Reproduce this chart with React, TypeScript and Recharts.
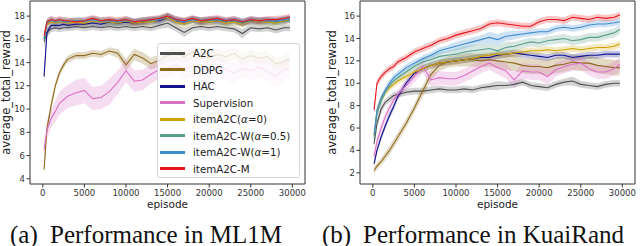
import { Area, ComposedChart, Label, Line, ReferenceArea, XAxis, YAxis } from 'recharts'

// episodes sampled along the x axis (both panels)
const EPISODES = [
  150, 500, 1000, 1500, 2000, 2500, 3000, 4000, 5000, 6000, 7000, 8000, 9000, 10000, 11000, 12000, 13000,
  14000, 15000, 16000, 17000, 18000, 19000, 20000, 21000, 22000, 23000, 24000, 25000, 26000, 27000, 28000,
  29000, 29700,
]
const X_TICKS = [0, 5000, 10000, 15000, 20000, 25000, 30000]
const ML1M_Y_TICKS = [4, 6, 8, 10, 12, 14, 16, 18]
const KUAI_Y_TICKS = [2, 4, 6, 8, 10, 12, 14, 16]

// (a) ML1M — mean reward
const ML1M_A2C = [15.8, 16.6, 16.9, 17.0, 16.9, 17.0, 17.0, 17.1, 17.0, 17.1, 17.0, 17.1, 17.0, 17.1, 17.0, 17.1, 17.0, 17.2, 17.4, 17.0, 16.6, 17.0, 17.1, 17.0, 17.1, 17.0, 16.9, 16.5, 17.0, 16.9, 17.0, 16.8, 17.0, 17.0]
const ML1M_DDPG = [4.8, 8.3, 10.3, 12.0, 13.1, 13.8, 14.3, 14.6, 14.6, 14.8, 14.7, 15.0, 14.8, 13.8, 14.7, 14.4, 13.9, 14.2, 14.6, 14.8, 14.5, 14.9, 14.6, 14.4, 14.7, 14.5, 14.8, 14.3, 14.6, 14.4, 14.5, 13.9, 14.1, 14.3]
const ML1M_HAC = [12.8, 16.6, 17.2, 17.2, 17.2, 17.3, 17.2, 17.3, 17.3, 17.4, 17.3, 17.5, 17.4, 17.5, 17.4, 17.5, 17.6, 17.6, 17.9, 17.6, 17.5, 17.7, 17.5, 17.6, 17.6, 17.5, 17.6, 17.4, 17.6, 17.5, 17.6, 17.5, 17.6, 17.7]
const ML1M_SUP = [6.5, 8.2, 9.2, 9.8, 10.5, 10.8, 11.1, 11.4, 11.6, 10.9, 11.0, 11.5, 12.3, 13.3, 12.4, 12.5, 13.0, 13.4, 13.5, 13.8, 13.4, 13.7, 13.5, 13.3, 13.6, 13.4, 13.1, 13.5, 13.3, 13.6, 13.2, 12.8, 13.4, 13.5]
const ML1M_ITEM0 = [16.0, 17.3, 17.5, 17.4, 17.5, 17.5, 17.4, 17.5, 17.4, 17.6, 17.5, 17.5, 17.4, 17.6, 17.4, 17.5, 17.5, 17.7, 17.9, 17.5, 17.3, 17.6, 17.5, 17.5, 17.6, 17.4, 17.5, 17.3, 17.6, 17.5, 17.5, 17.4, 17.6, 17.7]
const ML1M_W05 = [16.1, 17.4, 17.6, 17.5, 17.6, 17.5, 17.5, 17.6, 17.5, 17.7, 17.5, 17.6, 17.5, 17.6, 17.5, 17.6, 17.6, 17.7, 18.0, 17.6, 17.5, 17.7, 17.6, 17.6, 17.7, 17.5, 17.6, 17.4, 17.6, 17.6, 17.6, 17.5, 17.7, 17.7]
const ML1M_W1 = [16.0, 17.5, 17.7, 17.5, 17.6, 17.6, 17.5, 17.6, 17.6, 17.7, 17.6, 17.6, 17.5, 17.7, 17.5, 17.6, 17.7, 17.7, 18.0, 17.7, 17.5, 17.7, 17.6, 17.7, 17.7, 17.6, 17.7, 17.5, 17.7, 17.6, 17.6, 17.6, 17.7, 17.8]
const ML1M_M = [16.3, 17.5, 17.7, 17.6, 17.7, 17.6, 17.6, 17.5, 17.6, 17.8, 17.6, 17.7, 17.6, 17.7, 17.5, 17.6, 17.7, 17.8, 18.0, 17.7, 17.6, 17.8, 17.6, 17.7, 17.8, 17.6, 17.7, 17.5, 17.7, 17.6, 17.7, 17.7, 17.8, 17.9]

// (a) ML1M — half width of the shaded band
const ML1M_A2C_SD = [0.6, 0.4, 0.3, 0.3, 0.3, 0.3, 0.3, 0.3, 0.3, 0.3, 0.3, 0.3, 0.3, 0.3, 0.3, 0.3, 0.3, 0.3, 0.4, 0.3, 0.4, 0.3, 0.3, 0.3, 0.3, 0.3, 0.3, 0.4, 0.3, 0.3, 0.3, 0.3, 0.3, 0.3]
const ML1M_DDPG_SD = [0.5, 0.5, 0.4, 0.3, 0.3, 0.3, 0.3, 0.3, 0.3, 0.3, 0.3, 0.3, 0.4, 0.5, 0.5, 0.5, 0.5, 0.5, 0.5, 0.6, 0.5, 0.5, 0.5, 0.5, 0.5, 0.5, 0.5, 0.5, 0.5, 0.5, 0.5, 0.5, 0.5, 0.5]
const ML1M_HAC_SD = [0.5, 0.4, 0.3, 0.3, 0.3, 0.3, 0.3, 0.3, 0.3, 0.3, 0.3, 0.3, 0.3, 0.3, 0.3, 0.3, 0.3, 0.3, 0.3, 0.3, 0.3, 0.3, 0.3, 0.3, 0.3, 0.3, 0.3, 0.3, 0.3, 0.3, 0.3, 0.3, 0.3, 0.3]
const ML1M_SUP_SD = [0.6, 0.8, 0.8, 0.9, 1.0, 1.0, 1.0, 1.1, 1.1, 1.0, 1.0, 1.1, 1.0, 1.0, 0.9, 0.9, 0.8, 0.8, 0.8, 0.8, 0.9, 0.9, 0.9, 0.8, 0.8, 0.9, 0.9, 0.8, 0.9, 0.9, 0.9, 0.9, 0.9, 0.9]
const ML1M_ITEM0_SD = [0.4, 0.3, 0.3, 0.3, 0.3, 0.3, 0.3, 0.3, 0.3, 0.3, 0.3, 0.3, 0.3, 0.3, 0.3, 0.3, 0.3, 0.3, 0.3, 0.3, 0.3, 0.3, 0.3, 0.3, 0.3, 0.3, 0.3, 0.3, 0.3, 0.3, 0.3, 0.3, 0.3, 0.3]
const ML1M_W05_SD = [0.4, 0.3, 0.3, 0.3, 0.3, 0.3, 0.3, 0.3, 0.3, 0.3, 0.3, 0.3, 0.3, 0.3, 0.3, 0.3, 0.3, 0.3, 0.3, 0.3, 0.3, 0.3, 0.3, 0.3, 0.3, 0.3, 0.3, 0.3, 0.3, 0.3, 0.3, 0.3, 0.3, 0.3]
const ML1M_W1_SD = [0.4, 0.3, 0.3, 0.3, 0.3, 0.3, 0.3, 0.3, 0.3, 0.3, 0.3, 0.3, 0.3, 0.3, 0.3, 0.3, 0.3, 0.3, 0.3, 0.3, 0.3, 0.3, 0.3, 0.3, 0.3, 0.3, 0.3, 0.3, 0.3, 0.3, 0.3, 0.3, 0.3, 0.3]
const ML1M_M_SD = [0.4, 0.3, 0.3, 0.3, 0.3, 0.3, 0.3, 0.3, 0.3, 0.3, 0.3, 0.3, 0.3, 0.3, 0.3, 0.3, 0.3, 0.3, 0.3, 0.3, 0.3, 0.3, 0.3, 0.3, 0.3, 0.3, 0.3, 0.3, 0.3, 0.3, 0.3, 0.3, 0.3, 0.3]

// (b) KuaiRand — mean reward
const KUAI_A2C = [4.6, 6.4, 7.7, 8.3, 8.6, 8.9, 9.0, 9.2, 9.3, 9.3, 9.4, 9.5, 9.4, 9.4, 9.5, 9.4, 9.6, 9.7, 9.8, 9.8, 9.9, 10.1, 9.8, 9.7, 9.6, 9.9, 10.1, 10.2, 9.9, 9.8, 9.7, 9.9, 10.0, 10.0]
const KUAI_DDPG = [2.2, 2.6, 3.0, 3.5, 4.0, 4.6, 5.2, 6.4, 7.8, 9.3, 10.8, 11.6, 11.9, 12.0, 12.1, 12.1, 12.0, 12.1, 12.0, 11.9, 11.8, 11.6, 11.5, 11.5, 11.4, 11.6, 11.7, 11.9, 11.8, 11.8, 11.6, 11.5, 11.4, 11.4]
const KUAI_HAC = [2.8, 4.0, 5.2, 6.2, 7.1, 7.9, 8.8, 10.0, 10.9, 11.3, 11.6, 11.8, 11.9, 12.0, 12.1, 12.2, 12.3, 12.3, 12.5, 12.6, 12.7, 12.6, 12.5, 12.4, 12.3, 12.5, 12.5, 12.3, 12.4, 12.5, 12.5, 12.6, 12.6, 12.6]
const KUAI_SUP = [3.5, 4.8, 6.0, 7.0, 7.8, 8.5, 9.0, 9.8, 10.6, 11.5, 10.3, 10.5, 10.4, 10.4, 10.7, 11.1, 11.5, 11.8, 11.4, 11.1, 10.3, 11.1, 11.0, 11.0, 10.6, 11.2, 11.5, 11.7, 11.8, 11.3, 11.0, 11.0, 11.3, 11.7]
const KUAI_ITEM0 = [5.3, 7.6, 8.6, 9.2, 9.6, 9.9, 10.2, 10.6, 11.0, 11.3, 11.6, 11.8, 11.9, 12.0, 12.1, 12.2, 12.4, 12.5, 12.6, 12.6, 12.7, 12.8, 12.9, 12.9, 13.0, 12.9, 13.0, 13.1, 13.0, 13.1, 13.2, 13.2, 13.3, 13.5]
const KUAI_W05 = [5.0, 7.2, 8.4, 9.2, 9.8, 10.2, 10.5, 11.0, 11.5, 11.9, 12.1, 12.4, 12.5, 12.6, 12.8, 12.9, 13.0, 13.1, 12.9, 13.2, 13.3, 13.5, 13.7, 13.6, 13.8, 13.9, 14.0, 13.8, 13.9, 14.1, 14.1, 14.3, 14.5, 14.8]
const KUAI_W1 = [5.4, 7.6, 8.7, 9.4, 10.0, 10.5, 10.8, 11.4, 11.8, 12.2, 12.5, 12.9, 13.1, 13.3, 13.5, 13.7, 13.9, 14.1, 13.9, 14.2, 14.3, 14.4, 14.5, 14.6, 14.6, 14.9, 15.0, 14.9, 15.0, 15.2, 15.3, 15.3, 15.4, 15.5]
const KUAI_M = [7.6, 10.0, 10.6, 11.0, 11.3, 11.5, 11.9, 12.3, 12.8, 13.1, 13.4, 13.8, 14.0, 14.3, 14.5, 14.7, 14.9, 15.3, 15.4, 15.3, 15.2, 15.1, 15.1, 15.5, 15.7, 15.7, 15.6, 15.9, 15.8, 15.7, 15.9, 15.8, 15.9, 16.1]

// (b) KuaiRand — half width of the shaded band
const KUAI_A2C_SD = [0.4, 0.4, 0.4, 0.3, 0.3, 0.3, 0.3, 0.3, 0.3, 0.3, 0.3, 0.3, 0.3, 0.3, 0.3, 0.3, 0.3, 0.3, 0.4, 0.3, 0.3, 0.3, 0.3, 0.3, 0.3, 0.3, 0.3, 0.4, 0.3, 0.3, 0.3, 0.3, 0.3, 0.3]
const KUAI_DDPG_SD = [0.3, 0.3, 0.3, 0.4, 0.4, 0.4, 0.4, 0.4, 0.4, 0.5, 0.5, 0.5, 0.5, 0.5, 0.6, 0.6, 0.6, 0.6, 0.7, 0.7, 0.7, 0.7, 0.7, 0.7, 0.7, 0.7, 0.7, 0.7, 0.7, 0.7, 0.7, 0.7, 0.7, 0.7]
const KUAI_HAC_SD = [0.3, 0.3, 0.3, 0.3, 0.3, 0.3, 0.3, 0.3, 0.3, 0.3, 0.3, 0.3, 0.3, 0.3, 0.3, 0.3, 0.3, 0.3, 0.3, 0.3, 0.3, 0.3, 0.3, 0.3, 0.3, 0.3, 0.3, 0.3, 0.3, 0.3, 0.3, 0.3, 0.3, 0.3]
const KUAI_SUP_SD = [0.4, 0.4, 0.4, 0.4, 0.4, 0.4, 0.4, 0.5, 0.5, 0.6, 0.6, 0.6, 0.6, 0.6, 0.6, 0.6, 0.6, 0.6, 0.6, 0.7, 0.7, 0.7, 0.7, 0.7, 0.7, 0.6, 0.6, 0.6, 0.6, 0.6, 0.6, 0.6, 0.6, 0.6]
const KUAI_ITEM0_SD = [0.3, 0.3, 0.3, 0.3, 0.3, 0.3, 0.3, 0.3, 0.3, 0.3, 0.3, 0.3, 0.3, 0.3, 0.3, 0.3, 0.3, 0.3, 0.3, 0.3, 0.3, 0.3, 0.3, 0.3, 0.3, 0.3, 0.3, 0.3, 0.3, 0.3, 0.3, 0.3, 0.3, 0.3]
const KUAI_W05_SD = [0.3, 0.3, 0.3, 0.3, 0.3, 0.3, 0.3, 0.3, 0.3, 0.4, 0.4, 0.4, 0.4, 0.5, 0.5, 0.5, 0.5, 0.5, 0.5, 0.5, 0.4, 0.4, 0.4, 0.4, 0.4, 0.4, 0.4, 0.4, 0.4, 0.4, 0.4, 0.4, 0.4, 0.4]
const KUAI_W1_SD = [0.3, 0.3, 0.3, 0.3, 0.3, 0.3, 0.3, 0.3, 0.3, 0.3, 0.3, 0.3, 0.3, 0.4, 0.4, 0.4, 0.4, 0.5, 0.5, 0.4, 0.4, 0.3, 0.3, 0.3, 0.3, 0.3, 0.3, 0.3, 0.3, 0.3, 0.3, 0.3, 0.3, 0.3]
const KUAI_M_SD = [0.3, 0.3, 0.3, 0.3, 0.3, 0.3, 0.3, 0.3, 0.3, 0.3, 0.3, 0.3, 0.3, 0.3, 0.3, 0.3, 0.3, 0.3, 0.3, 0.3, 0.3, 0.3, 0.3, 0.3, 0.3, 0.3, 0.3, 0.3, 0.3, 0.3, 0.3, 0.3, 0.3, 0.3]

type SeriesDef = { key: string; color: string; label: React.ReactNode }

const SERIES: SeriesDef[] = [
  { key: 'A2C', color: '#505050', label: 'A2C' },
  { key: 'DDPG', color: '#8f6a1c', label: 'DDPG' },
  { key: 'HAC', color: '#12128c', label: 'HAC' },
  { key: 'SUP', color: '#dc72c6', label: 'Supervision' },
  { key: 'ITEM0', color: '#cfa200', label: <>itemA2C(<i>α</i>=0)</> },
  { key: 'W05', color: '#5a9e8c', label: <>itemA2C-W(<i>α</i>=0.5)</> },
  { key: 'W1', color: '#3c8bd0', label: <>itemA2C-W(<i>α</i>=1)</> },
  { key: 'M', color: '#e6161d', label: 'itemA2C-M' },
]

const ML1M_MEAN: Record<string, number[]> = {
  A2C: ML1M_A2C, DDPG: ML1M_DDPG, HAC: ML1M_HAC, SUP: ML1M_SUP,
  ITEM0: ML1M_ITEM0, W05: ML1M_W05, W1: ML1M_W1, M: ML1M_M,
}
const ML1M_SPREAD: Record<string, number[]> = {
  A2C: ML1M_A2C_SD, DDPG: ML1M_DDPG_SD, HAC: ML1M_HAC_SD, SUP: ML1M_SUP_SD,
  ITEM0: ML1M_ITEM0_SD, W05: ML1M_W05_SD, W1: ML1M_W1_SD, M: ML1M_M_SD,
}
const KUAI_MEAN: Record<string, number[]> = {
  A2C: KUAI_A2C, DDPG: KUAI_DDPG, HAC: KUAI_HAC, SUP: KUAI_SUP,
  ITEM0: KUAI_ITEM0, W05: KUAI_W05, W1: KUAI_W1, M: KUAI_M,
}
const KUAI_SPREAD: Record<string, number[]> = {
  A2C: KUAI_A2C_SD, DDPG: KUAI_DDPG_SD, HAC: KUAI_HAC_SD, SUP: KUAI_SUP_SD,
  ITEM0: KUAI_ITEM0_SD, W05: KUAI_W05_SD, W1: KUAI_W1_SD, M: KUAI_M_SD,
}

function buildRows(mean: Record<string, number[]>, spread: Record<string, number[]>) {
  return EPISODES.map((episode, i) => {
    const row: Record<string, number | number[]> = { episode }
    for (const s of SERIES) {
      const v = mean[s.key][i]
      const d = spread[s.key][i]
      row[s.key] = v
      row[`${s.key}_band`] = [v - d, v + d]
    }
    return row
  })
}

const X_DOMAIN: [number, number] = [-1540, 31520]
const TICK = { fontSize: 8.5, fill: '#333', fontFamily: '"DejaVu Sans", sans-serif' }
const AXIS_LABEL = { fontSize: 11, fill: '#222', fontFamily: '"DejaVu Sans", sans-serif' }

function RewardChart({
  rows,
  yDomain,
  yTicks,
  yAxisWidth,
  marginRight,
  labelOffset,
}: {
  rows: Record<string, number | number[]>[]
  yDomain: [number, number]
  yTicks: number[]
  yAxisWidth: number
  marginRight: number
  labelOffset: number
}) {
  return (
    <ComposedChart
      width={320}
      height={215}
      data={rows}
      margin={{ top: 1, right: marginRight, bottom: 0, left: 0 }}
    >
      <XAxis
        dataKey="episode"
        type="number"
        domain={X_DOMAIN}
        ticks={X_TICKS}
        interval={0}
        allowDataOverflow
        axisLine={false}
        tickLine={{ stroke: '#333' }}
        tickSize={3.5}
        tickMargin={2}
        tick={TICK}
        height={31}
      >
        <Label value="episode" position="insideBottom" offset={7} style={{ ...AXIS_LABEL, fontSize: 10.5 }} />
      </XAxis>
      <YAxis
        type="number"
        domain={yDomain}
        ticks={yTicks}
        interval={0}
        allowDataOverflow
        axisLine={false}
        tickLine={{ stroke: '#333' }}
        tickSize={3.5}
        tickMargin={1.5}
        tick={TICK}
        width={yAxisWidth}
      >
        <Label
          value="average_total_reward"
          angle={-90}
          position="insideLeft"
          offset={labelOffset}
          style={{ ...AXIS_LABEL, fontSize: 11.5, textAnchor: 'middle' }}
        />
      </YAxis>
      {SERIES.map((s) => [
        <Area
          key={`${s.key}-band`}
          type="linear"
          dataKey={`${s.key}_band`}
          stroke="none"
          fill={s.color}
          fillOpacity={0.25}
          isAnimationActive={false}
          activeDot={false}
        />,
        <Line
          key={`${s.key}-line`}
          type="linear"
          dataKey={s.key}
          stroke={s.color}
          strokeWidth={1.1}
          dot={false}
          activeDot={false}
          isAnimationActive={false}
        />,
      ])}
      <ReferenceArea
        x1={X_DOMAIN[0]}
        x2={X_DOMAIN[1]}
        y1={yDomain[0]}
        y2={yDomain[1]}
        fill="none"
        fillOpacity={0}
        stroke="#333"
        strokeWidth={1}
        ifOverflow="visible"
      />
    </ComposedChart>
  )
}

function LegendBox() {
  return (
    <div
      style={{
        position: 'absolute',
        left: 157,
        top: 43,
        width: 143,
        height: 135,
        boxSizing: 'border-box',
        border: '1px solid #d4d4d4',
        borderRadius: 3,
        background: 'rgba(255,255,255,0.8)',
        fontFamily: '"DejaVu Sans", sans-serif',
        fontSize: 10.3,
        color: '#222',
      }}
    >
      {SERIES.map((s, i) => (
        <div
          key={s.key}
          style={{
            position: 'absolute',
            left: 2,
            top: 1 + i * 16.57,
            height: 16,
            display: 'flex',
            alignItems: 'center',
            whiteSpace: 'nowrap',
          }}
        >
          <span style={{ display: 'inline-block', width: 25, height: 3, background: s.color }} />
          <span style={{ marginLeft: 8 }}>{s.label}</span>
        </div>
      ))}
    </div>
  )
}

export default function App() {
  const ml1mRows = buildRows(ML1M_MEAN, ML1M_SPREAD)
  const kuaiRows = buildRows(KUAI_MEAN, KUAI_SPREAD)
  const caption = { fontFamily: '"Liberation Serif", serif', fontSize: 25, fill: '#111' }

  return (
    <div style={{ position: 'absolute', left: 0, top: 0, width: 640, height: 246, background: '#fff', overflow: 'hidden' }}>
      <div style={{ position: 'absolute', left: 0, top: 0 }}>
        <RewardChart rows={ml1mRows} yDomain={[3.55, 19.3]} yTicks={ML1M_Y_TICKS} yAxisWidth={30} marginRight={15} labelOffset={5.5} />
      </div>
      <LegendBox />
      <div style={{ position: 'absolute', left: 320, top: 0 }}>
        <RewardChart rows={kuaiRows} yDomain={[1.0, 17.35]} yTicks={KUAI_Y_TICKS} yAxisWidth={40} marginRight={5} labelOffset={12} />
      </div>
      <svg width={640} height={246} style={{ position: 'absolute', left: 0, top: 0, pointerEvents: 'none' }}>
        <text x={10} y={243} style={caption}>(a)</text>
        <text x={50} y={243} style={caption}>Performance in ML1M</text>
        <text x={322} y={243} style={caption}>(b)</text>
        <text x={363} y={243} style={caption}>Performance in KuaiRand</text>
      </svg>
    </div>
  )
}
